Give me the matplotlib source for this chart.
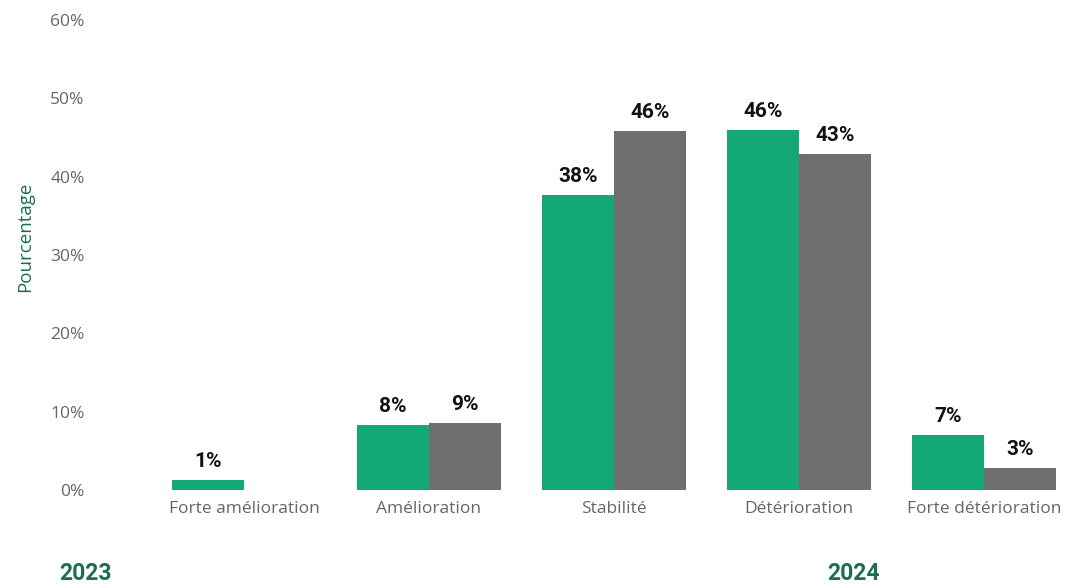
import matplotlib.pyplot as plt
import numpy as np

categories = ["Forte amélioration", "Amélioration", "Stabilité", "Détérioration", "Forte détérioration"]
values_2023 = [1.3, 8.3, 37.6, 45.9, 7.0]
values_2024 = [0.0, 8.5, 45.8, 42.9, 2.8]
labels_2023 = ["1%", "8%", "38%", "46%", "7%"]
labels_2024 = ["", "9%", "46%", "43%", "3%"]
yticks = [0, 10, 20, 30, 40, 50, 60]

GREEN = "#14a876"
GREY = "#6f6f6f"
DARK_GREEN = "#1c6e52"

plt.rcParams["font.family"] = ["Open Sans", "DejaVu Sans"]

fig = plt.figure(figsize=(10.68, 5.84), dpi=100)
W, H = 1068, 584
left_px, right_px = 100, 1068
ax = fig.add_axes([left_px / W, 1 - 490 / H, (right_px - left_px) / W, (490 - 20) / H])

x = np.arange(len(categories))
width = 0.39
b1 = ax.bar(x - width / 2, values_2023, width, color=GREEN)
b2 = ax.bar(x + width / 2, values_2024, width, color=GREY)

for bars, labels in ((b1, labels_2023), (b2, labels_2024)):
    for rect, lab in zip(bars, labels):
        if not lab:
            continue
        ax.annotate(lab, (rect.get_x() + rect.get_width() / 2, rect.get_height()),
                    xytext=(0, 13.5), textcoords="offset points", ha="center", va="center",
                    fontsize=15, fontweight="bold", color="#111111",
                    family=["Roboto", "DejaVu Sans"])

# category centres in pixels: 244 + 185*i
ax.set_xlim((left_px - 244) / 185, (right_px - 244) / 185)
ax.set_ylim(0, 60)
ax.set_yticks(yticks)
ax.set_yticklabels([f"{v}%" for v in yticks])
ax.set_xticks(x)
ax.set_xticklabels(categories)
ax.tick_params(axis="both", length=0, labelsize=12.5, labelcolor="#666666")
ax.tick_params(axis="y", pad=11)
ax.tick_params(axis="x", pad=8)
for s in ax.spines.values():
    s.set_visible(False)

fig.text(25 / W, 1 - 237 / H, "Pourcentage", rotation=90, ha="center", va="center",
         fontsize=13.5, color=DARK_GREEN)
fig.text(85 / W, 1 - 574 / H, "2023", ha="center", va="center", fontsize=16.5,
         fontweight="bold", color=DARK_GREEN, family=["Roboto", "DejaVu Sans"])
fig.text(854 / W, 1 - 574 / H, "2024", ha="center", va="center", fontsize=16.5,
         fontweight="bold", color=DARK_GREEN, family=["Roboto", "DejaVu Sans"])

fig.savefig("out.png", dpi=100)
